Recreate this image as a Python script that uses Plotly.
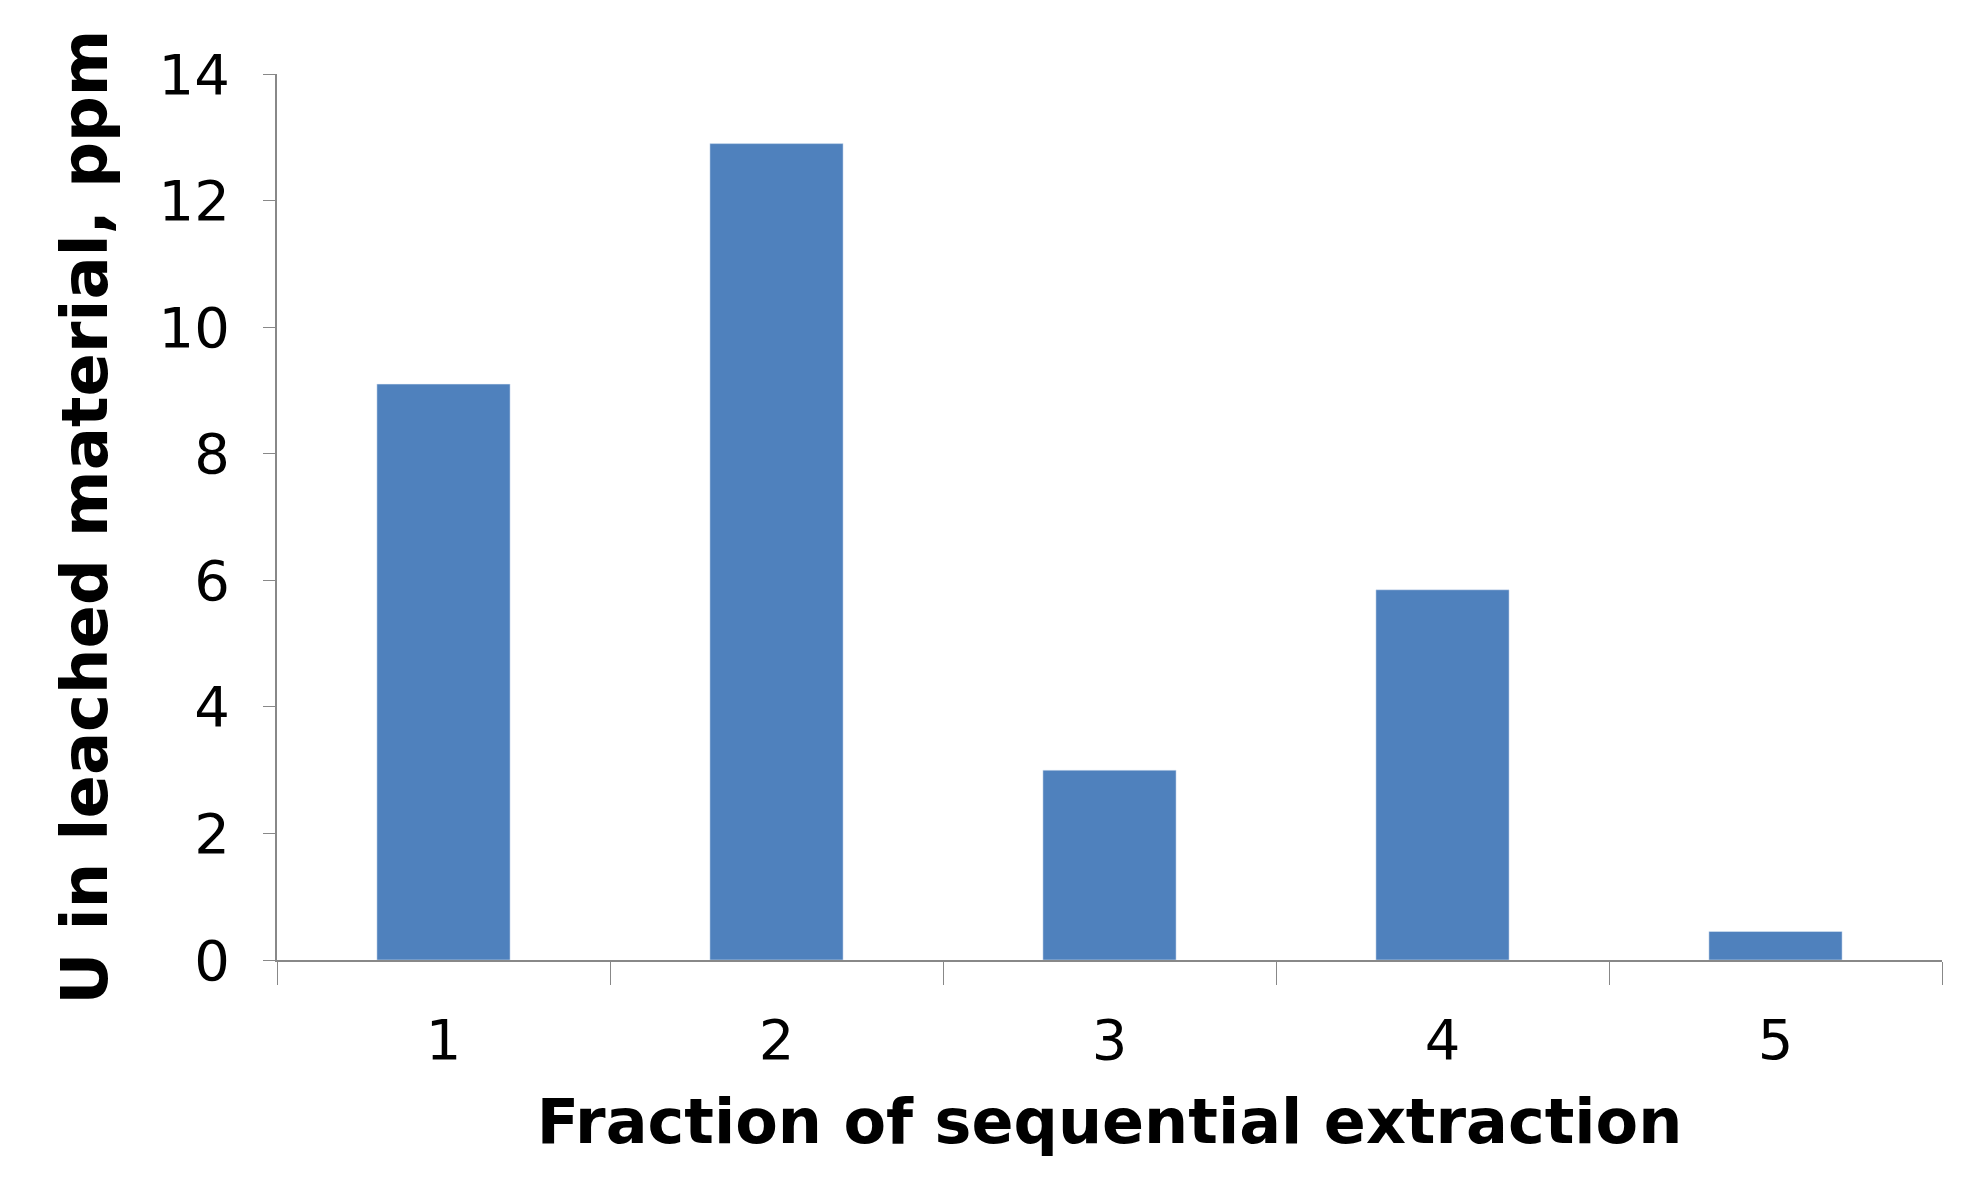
import plotly.graph_objects as go

fractions = ["1", "2", "3", "4", "5"]
uranium_ppm = [9.1, 12.9, 3.0, 5.85, 0.45]
y_ticks = [0, 2, 4, 6, 8, 10, 12, 14]

fig = go.Figure()
fig.add_trace(go.Bar(x=fractions, y=uranium_ppm, marker_color="#4f81bd", width=0.4))

fig.update_layout(
    width=1968, height=1204,
    paper_bgcolor="white", plot_bgcolor="white",
    margin=dict(l=269, r=34, t=66, b=252),
    showlegend=False,
    font=dict(family="DejaVu Sans", color="black"),
)
fig.update_xaxes(
    type="category", tickson="boundaries", ticks="outside", ticklen=23,
    tickcolor="#888", showline=True, linecolor="#888", linewidth=2,
    tickfont=dict(size=56), ticklabelstandoff=30,
    title=dict(text="<b>Fraction of sequential extraction</b>", font=dict(size=62), standoff=28),
)
fig.update_yaxes(
    range=[0, 14], tickvals=y_ticks, ticks="outside", ticklen=12, tickcolor="#888",
    showline=True, linecolor="#888", linewidth=2, showgrid=False, zeroline=False,
    tickfont=dict(size=56), ticklabelstandoff=22,
    title=dict(text="<b>U in leached material, ppm</b>", font=dict(size=64), standoff=30),
)

fig.write_html("out.html")
